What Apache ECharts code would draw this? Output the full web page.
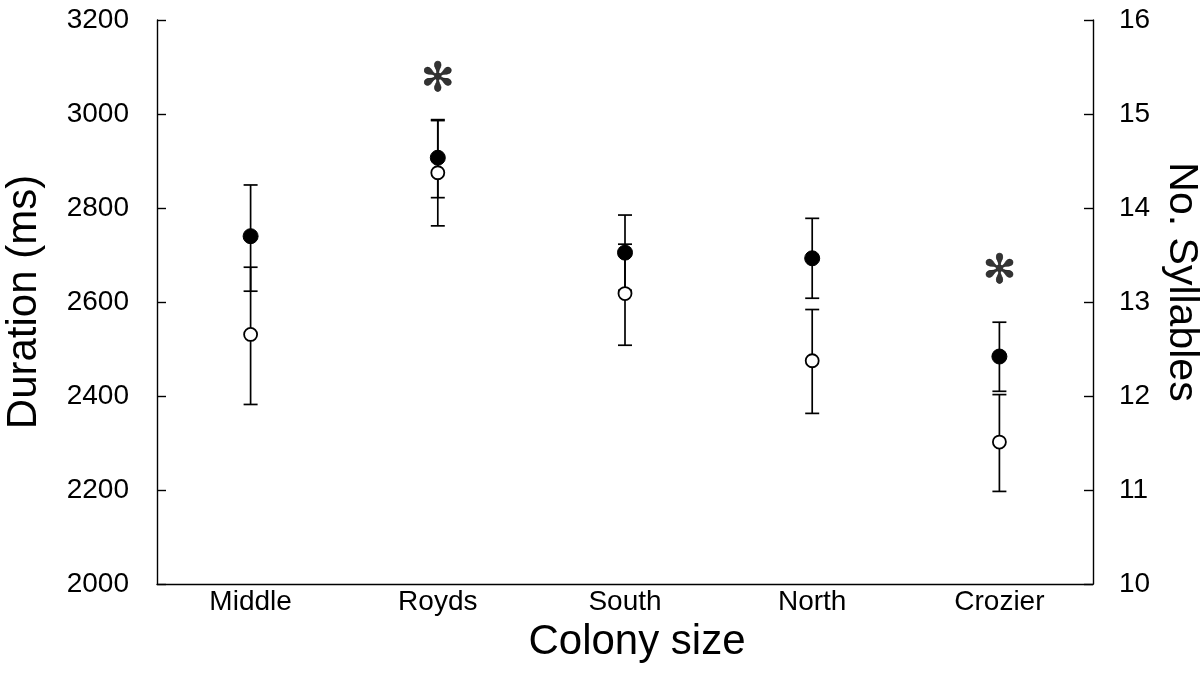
<!DOCTYPE html>
<html>
<head>
<meta charset="utf-8">
<script src="https://cdn.jsdelivr.net/npm/echarts@6/dist/echarts.min.js"></script>
<style>html,body{margin:0;padding:0;background:#fff}#c{width:1200px;height:688px}</style>
</head>
<body>
<div id="c"></div>
<script>
// ---- data ----
const categories = ['Middle', 'Royds', 'South', 'North', 'Crozier'];
// filled circles: duration (ms), left axis
const durationMean = [2740, 2907, 2705, 2693, 2484];
const durationLow  = [2623, 2822, 2625, 2608, 2410];
const durationHigh = [2849, 2988, 2785, 2778, 2557];
// open circles: number of syllables, right axis
const syllableMean = [12.655, 14.375, 13.09, 12.375, 11.51];
const syllableLow  = [11.91, 13.81, 12.54, 11.815, 10.985];
const syllableHigh = [13.37, 14.93, 13.615, 12.92, 12.015];
// significance markers (duration scale)
const sigLevel = [null, 3072, null, null, 2663];
const leftTicks = [2000, 3200, 200];
const rightTicks = [10, 16, 1];

const FONT = '"Liberation Sans", Arial, sans-serif';

function errRender(params, api) {
  const x = api.value(0);
  const lo = api.coord([x, api.value(1)]);
  const hi = api.coord([x, api.value(2)]);
  const hw = 7;
  const style = { stroke: '#000', lineWidth: 1.7 };
  return {
    type: 'group',
    children: [
      { type: 'line', shape: { x1: lo[0], y1: lo[1], x2: hi[0], y2: hi[1] }, style },
      { type: 'line', shape: { x1: lo[0] - hw, y1: lo[1], x2: lo[0] + hw, y2: lo[1] }, style },
      { type: 'line', shape: { x1: hi[0] - hw, y1: hi[1], x2: hi[0] + hw, y2: hi[1] }, style }
    ]
  };
}

const chart = echarts.init(document.getElementById('c'), null, { renderer: 'canvas' });
chart.setOption({
  animation: false,
  backgroundColor: '#fff',
  textStyle: { fontFamily: FONT },
  grid: { left: 157, right: 107, top: 20, bottom: 104, containLabel: false, outerBoundsMode: 'none' },
  xAxis: {
    type: 'category',
    data: categories,
    boundaryGap: true,
    name: 'Colony size',
    nameLocation: 'middle',
    nameGap: 37,
    nameTextStyle: { fontSize: 42, color: '#000', fontFamily: FONT, padding: [0, 0, 0, 24] },
    axisLine: { lineStyle: { color: '#000', width: 1.4 } },
    axisTick: { inside: true, length: 9, lineStyle: { color: '#000', width: 1.4 } },
    axisLabel: { fontSize: 28, color: '#000', margin: 4, fontFamily: FONT },
    splitLine: { show: false }
  },
  yAxis: [
    {
      type: 'value',
      min: leftTicks[0], max: leftTicks[1], interval: leftTicks[2],
      name: 'Duration (ms)',
      nameLocation: 'middle',
      nameRotate: 90,
      nameGap: 112,
      nameTextStyle: { fontSize: 42, color: '#000', fontFamily: FONT },
      axisLine: { show: true, lineStyle: { color: '#000', width: 1.4 } },
      axisTick: { show: true, inside: true, length: 9, lineStyle: { color: '#000', width: 1.4 } },
      axisLabel: { fontSize: 28, color: '#000', margin: 28, fontFamily: FONT, formatter: v => String(v) },
      splitLine: { show: false }
    },
    {
      type: 'value',
      position: 'right',
      min: rightTicks[0], max: rightTicks[1], interval: rightTicks[2],
      name: 'No. Syllables',
      nameLocation: 'middle',
      nameRotate: -90,
      nameGap: 64,
      nameTextStyle: { fontSize: 41, color: '#000', fontFamily: FONT, padding: [0, 40, 0, 0] },
      axisLine: { show: true, lineStyle: { color: '#000', width: 1.4 } },
      axisTick: { show: true, inside: true, length: 9, lineStyle: { color: '#000', width: 1.4 } },
      axisLabel: { fontSize: 28, color: '#000', margin: 26, fontFamily: FONT, formatter: v => String(v) },
      splitLine: { show: false }
    }
  ],
  series: [
    {
      type: 'custom', yAxisIndex: 0, z: 1,
      renderItem: errRender,
      data: categories.map((c, i) => [i, durationLow[i], durationHigh[i]])
    },
    {
      type: 'custom', yAxisIndex: 1, z: 1,
      renderItem: errRender,
      data: categories.map((c, i) => [i, syllableLow[i], syllableHigh[i]])
    },
    {
      type: 'scatter', yAxisIndex: 0, z: 3,
      symbol: 'circle', symbolSize: 15,
      itemStyle: { color: '#000', borderColor: '#000', borderWidth: 1, opacity: 1 },
      data: categories.map((c, i) => [i, durationMean[i]])
    },
    {
      type: 'scatter', yAxisIndex: 1, z: 4,
      symbol: 'circle', symbolSize: 13,
      itemStyle: { color: '#fff', borderColor: '#000', borderWidth: 1.8, opacity: 1 },
      data: categories.map((c, i) => [i, syllableMean[i]])
    },
    {
      type: 'scatter', yAxisIndex: 0, z: 5,
      symbolSize: 0,
      silent: true,
      label: {
        show: true, position: 'inside', formatter: '\u273B',
        fontSize: 40, color: '#000', fontFamily: '"DejaVu Sans", sans-serif',
        textBorderColor: '#000', textBorderWidth: 0.6
      },
      data: categories.map((c, i) => sigLevel[i] == null ? null : [i, sigLevel[i]]).filter(d => d)
    }
  ]
});
</script>
</body>
</html>
